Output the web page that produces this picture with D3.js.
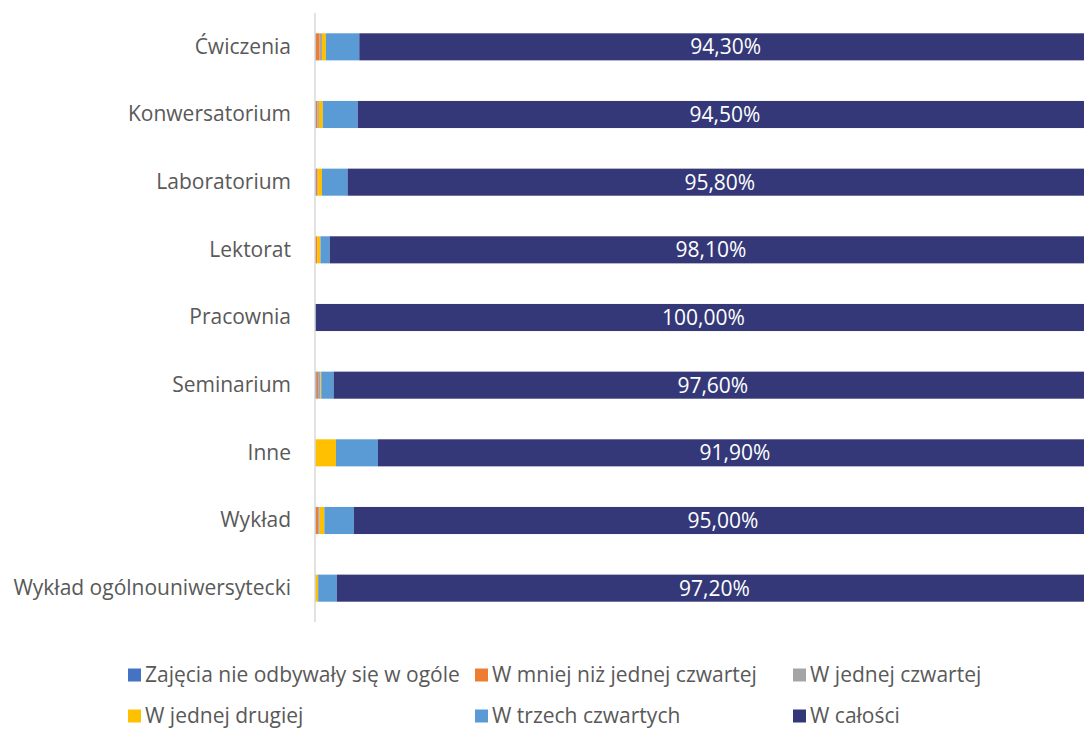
<!DOCTYPE html>
<html>
<head>
<meta charset="utf-8">
<script src="https://cdn.jsdelivr.net/npm/d3@7"></script>
<style>
  body { margin: 0; background: #fff; }
  text { font-family: "Open Sans", "Noto Sans", sans-serif; }
</style>
</head>
<body>
<div id="chart"></div>
<script>
//// ============================== DATA ============================== ////

var categories = ["Ćwiczenia", "Konwersatorium", "Laboratorium", "Lektorat", "Pracownia",
    "Seminarium", "Inne", "Wykład", "Wykład ogólnouniwersytecki"];

var seriesNames = ["Zajęcia nie odbywały się w ogóle", "W mniej niż jednej czwartej",
    "W jednej czwartej", "W jednej drugiej", "W trzech czwartych", "W całości"];

var seriesColors = ["#4472C4", "#ED7D31", "#A5A5A5", "#FFC000", "#5B9BD5", "#343878"];

// values in percent, one array per series, same order as categories
var nieOdbywaly   = [0.1, 0.1, 0.1, 0.0, 0.0, 0.2, 0.0, 0.1, 0.0];
var mniejCzwartej = [0.5, 0.2, 0.2, 0.3, 0.0, 0.2, 0.0, 0.3, 0.1];
var jednaCzwarta  = [0.3, 0.2, 0.1, 0.0, 0.0, 0.3, 0.0, 0.2, 0.0];
var jednaDruga    = [0.5, 0.5, 0.5, 0.4, 0.0, 0.1, 2.7, 0.6, 0.3];
var trzyCzwarte   = [4.3, 4.5, 3.3, 1.2, 0.0, 1.6, 5.4, 3.8, 2.4];
var wCalosci      = [94.3, 94.5, 95.8, 98.1, 100.0, 97.6, 91.9, 95.0, 97.2];

var seriesValues = [nieOdbywaly, mniejCzwartej, jednaCzwarta, jednaDruga, trzyCzwarte, wCalosci];

//// ============================== LAYOUT ============================== ////

var chartW = 1084, chartH = 731;
var plotLeft = 315, plotRight = 1092, plotTop = 13, plotBottom = 622;
var fontSize = "21px";

var svg = d3.select("#chart").append("svg")
    .attr("width", chartW)
    .attr("height", chartH);

var x = d3.scaleLinear().domain([0, 100]).range([plotLeft, plotRight]);
var y = d3.scaleBand().domain(categories).range([plotTop, plotBottom]).paddingInner(0.6).paddingOuter(0.3);

// build stacked rows
var rows = categories.map(function(c, i) {
    var r = { cat: c };
    seriesNames.forEach(function(s, j) { r[s] = seriesValues[j][i]; });
    return r;
});
var stacked = d3.stack().keys(seriesNames)(rows);

//// ============================== BARS ============================== ////

svg.append("g").selectAll("g")
    .data(stacked)
    .enter().append("g")
    .attr("fill", function(d, i) { return seriesColors[i]; })
    .selectAll("rect")
    .data(function(d) { return d; })
    .enter().append("rect")
    .attr("x", function(d) { return x(d[0]); })
    .attr("y", function(d) { return y(d.data.cat); })
    .attr("width", function(d) { return Math.max(0, x(d[1]) - x(d[0])); })
    .attr("height", y.bandwidth());

// value labels for "W całości"
var last = stacked[stacked.length - 1];
svg.append("g").selectAll("text")
    .data(last)
    .enter().append("text")
    .attr("x", function(d) { return (x(d[0]) + x(d[1])) / 2; })
    .attr("y", function(d) { return y(d.data.cat) + y.bandwidth() / 2; })
    .attr("dy", ".35em")
    .attr("text-anchor", "middle")
    .attr("fill", "#fff")
    .style("font-size", fontSize)
    .text(function(d) { return (d[1] - d[0]).toFixed(2).replace(".", ",") + "%"; });

//// ============================== AXIS ============================== ////

var yAxis = svg.append("g")
    .attr("transform", "translate(" + plotLeft + ",0)")
    .call(d3.axisLeft(y).tickSize(0).tickPadding(24));
yAxis.select(".domain")
    .attr("stroke", "#d9d9d9")
    .attr("stroke-width", 1.5)
    .attr("d", "M0," + plotTop + "V" + plotBottom);
yAxis.selectAll("text")
    .attr("fill", "#595959")
    .style("font-size", fontSize)
    .style("font-family", "'Open Sans', 'Noto Sans', sans-serif");

//// ============================== LEGEND ============================== ////

var legendX = [128, 475, 793];
var legendY = [675, 716];

var legend = svg.append("g").selectAll("g")
    .data(seriesNames)
    .enter().append("g")
    .attr("transform", function(d, i) {
        return "translate(" + legendX[i % 3] + "," + legendY[Math.floor(i / 3)] + ")";
    });

legend.append("rect")
    .attr("x", 0)
    .attr("y", -6.5)
    .attr("width", 13)
    .attr("height", 13)
    .attr("fill", function(d, i) { return seriesColors[i]; });

legend.append("text")
    .attr("x", 17)
    .attr("dy", ".35em")
    .attr("fill", "#595959")
    .style("font-size", fontSize)
    .text(function(d) { return d; });
</script>
</body>
</html>
